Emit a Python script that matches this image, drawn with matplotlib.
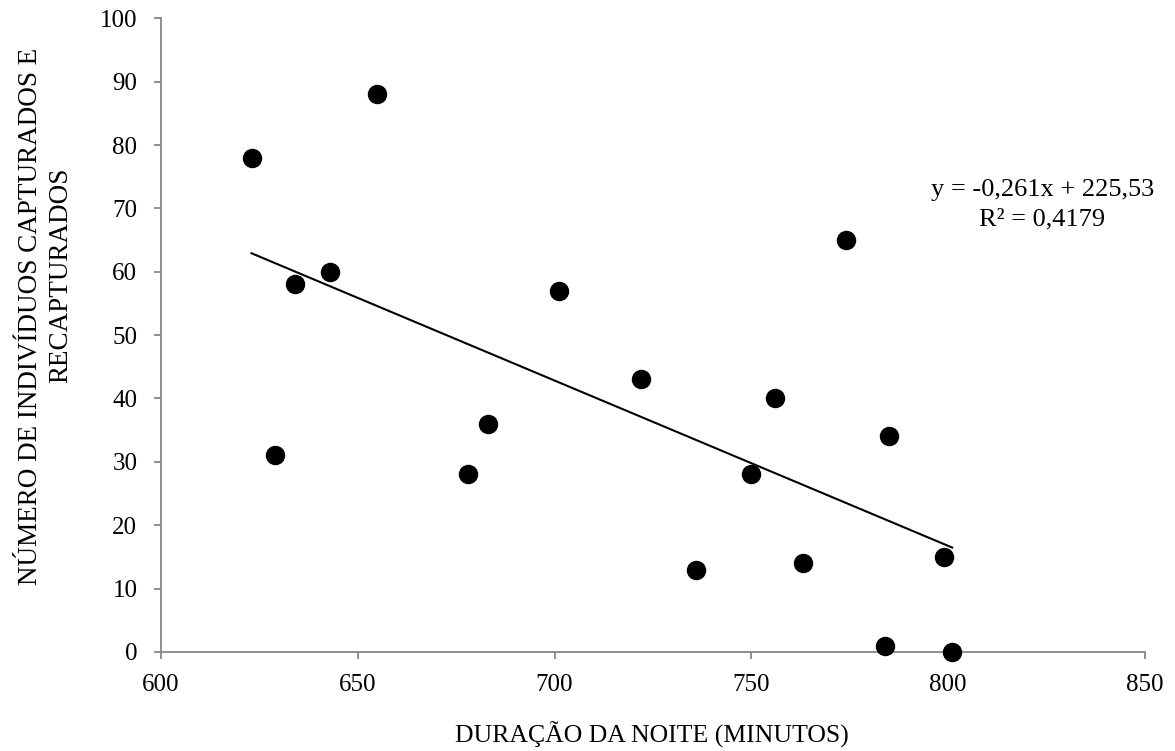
import numpy as np
import matplotlib.pyplot as plt

# Night length (minutes) vs. number of captured + recaptured individuals
duracao = np.array([623, 655, 634, 643, 629, 683, 678, 701, 774,
                    722, 756, 785, 750, 736, 763, 799, 784, 801])
individuos = np.array([78, 88, 58, 60, 31, 36, 28, 57, 65,
                       43, 40, 34, 28, 13, 14, 15, 1, 0])

# Linear trend (as reported on the chart)
slope = -0.261
intercept = 225.53
r2 = 0.4179

plt.rcParams['font.family'] = ['Liberation Serif', 'DejaVu Serif']

fig = plt.figure(figsize=(11.75, 7.51), dpi=100)
ax = fig.add_axes([0.137, 0.132, 0.8375, 0.8435])

x_fit = np.array([duracao.min(), duracao.max()])
ax.plot(x_fit, slope * x_fit + intercept, color='black', lw=1.5, zorder=2)
ax.plot(duracao, individuos, 'o', color='black', markersize=13,
        clip_on=False, zorder=3)

ax.set_xlim(600, 850)
ax.set_ylim(0, 100)
ax.set_xticks(np.arange(600, 851, 50))
ax.set_yticks(np.arange(0, 101, 10))

for side in ['top', 'right']:
    ax.spines[side].set_visible(False)
for side in ['left', 'bottom']:
    ax.spines[side].set_color('#878787')
    ax.spines[side].set_linewidth(1.3)
ax.tick_params(axis='both', direction='out', length=5, width=1.3,
               color='#878787', labelsize=18, labelcolor='black')
ax.tick_params(axis='y', pad=12)
ax.tick_params(axis='x', pad=11)

# equation and R² of the trend line
fig.text(0.887, 0.747, f'y = {slope:.3f}x + {intercept:.2f}'.replace('.', ','),
         ha='center', va='center', fontsize=19)
fig.text(0.887, 0.708, f'R² = {r2:.4f}'.replace('.', ','),
         ha='center', va='center', fontsize=19)

# axis titles
fig.text(0.555, 0.022, 'DURAÇÃO DA NOITE (MINUTOS)', ha='center',
         va='center', fontsize=18.5)
fig.text(0.026, 0.579, 'NÚMERO DE INDIVÍDUOS CAPTURADOS E', rotation=90,
         ha='center', va='center', fontsize=19.5)
fig.text(0.052, 0.634, 'RECAPTURADOS', rotation=90,
         ha='center', va='center', fontsize=19.5)

fig.savefig('out.png', dpi=100)
